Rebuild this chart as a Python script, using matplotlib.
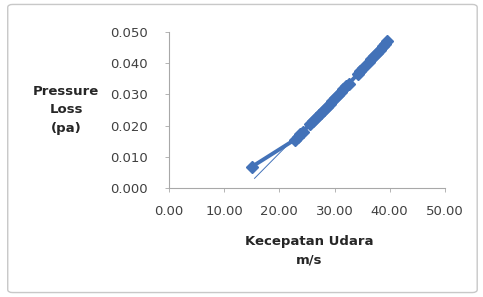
import numpy as np
from matplotlib import pyplot as plt
from matplotlib.patches import FancyBboxPatch

# kecepatan udara (m/s) dan pressure loss (pa)
kecepatan = [15.0, 22.8, 23.3, 23.8, 24.3, 25.6, 26.1, 26.6, 27.1, 27.6, 28.1,
             28.6, 29.1, 29.6, 30.1, 30.6, 31.1, 31.6, 32.1, 32.6, 34.2, 34.7,
             35.2, 36.2, 36.7, 37.2, 37.7, 38.2, 38.7, 39.2, 39.6]
pressure = [0.0068, 0.0155, 0.0163, 0.0172, 0.0181, 0.0205, 0.0214, 0.0224,
            0.0233, 0.0242, 0.0251, 0.0261, 0.0270, 0.0279, 0.0289, 0.0298,
            0.0307, 0.0317, 0.0326, 0.0335, 0.0365, 0.0375, 0.0384, 0.0404,
            0.0414, 0.0424, 0.0434, 0.0444, 0.0454, 0.0463, 0.0470]

xticks = [0, 10, 20, 30, 40, 50]
yticks = [0.0, 0.01, 0.02, 0.03, 0.04, 0.05]

plt.rcParams['font.family'] = ['DejaVu Sans']

fig = plt.figure(figsize=(4.83, 2.97), dpi=100)
border = FancyBboxPatch((0.016, 0.015), 0.972, 0.97, boxstyle='round,pad=0,rounding_size=0.01',
                        transform=fig.transFigure, facecolor='white', edgecolor='#c8c8c8',
                        linewidth=1.0, zorder=-1)
fig.patches.append(border)

ax = fig.add_axes([0.350, 0.367, 0.571, 0.525])
ax.patch.set_alpha(0)

blue = '#4372b8'
ax.plot(kecepatan, pressure, color=blue, linewidth=2.8, marker='D', markersize=6,
        markeredgecolor=blue, markerfacecolor=blue)

# trendline linear
coef = np.polyfit(kecepatan, pressure, 1)
xt = np.array([min(kecepatan) + 0.5, max(kecepatan)])
ax.plot(xt, np.polyval(coef, xt), color=blue, linewidth=0.7)

ax.set_xlim(0, 50)
ax.set_ylim(0, 0.05)
ax.set_xticks(xticks)
ax.set_yticks(yticks)
ax.set_xticklabels(['%.2f' % v for v in xticks])
ax.set_yticklabels(['%.3f' % v for v in yticks])
ax.tick_params(axis='both', labelsize=9.5, labelcolor='#404040', length=3, width=0.6,
               direction='out', color='#a8a8a8')
ax.tick_params(axis='x', pad=9)
ax.tick_params(axis='y', pad=12)

for side in ['top', 'right']:
    ax.spines[side].set_visible(False)
for side in ['left', 'bottom']:
    ax.spines[side].set_color('#a8a8a8')
    ax.spines[side].set_linewidth(0.8)

fig.text(0.137, 0.63, 'Pressure\nLoss\n(pa)', ha='center', va='center', fontsize=9.5,
         fontweight='bold', color='#262626', linespacing=1.55)
fig.text(0.641, 0.155, 'Kecepatan Udara\nm/s', ha='center', va='center', fontsize=9.5,
         fontweight='bold', color='#262626', linespacing=1.5)

plt.savefig('out.png', dpi=100)
